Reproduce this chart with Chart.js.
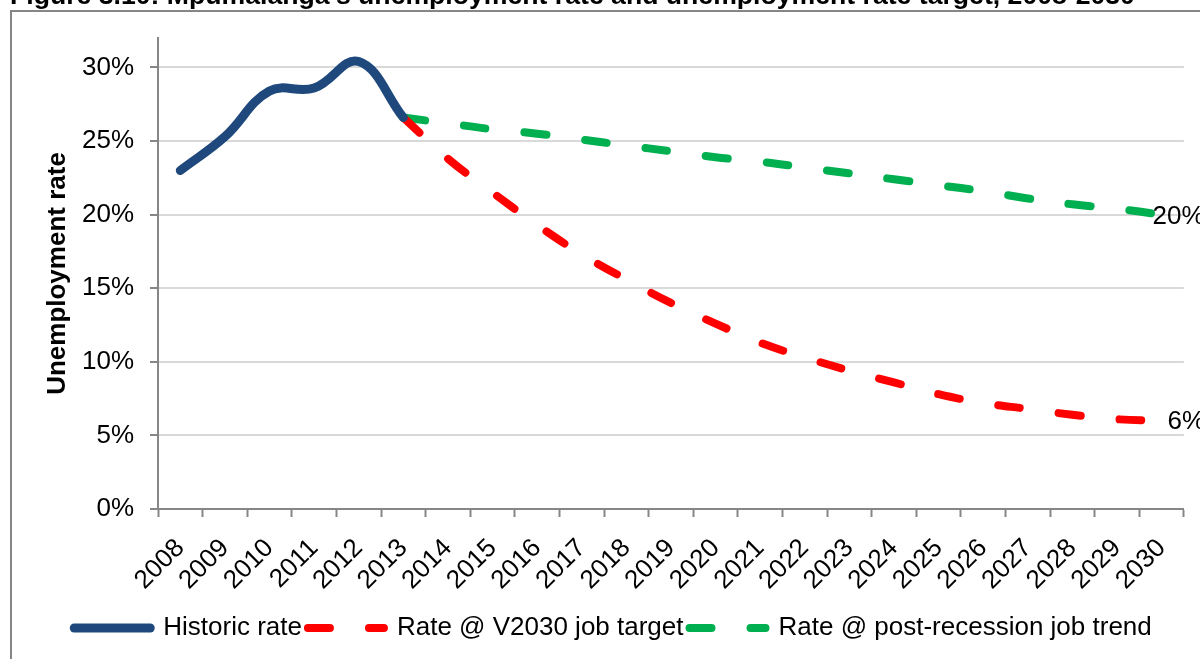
<!DOCTYPE html>
<html>
<head>
<meta charset="utf-8">
<script src="https://cdn.jsdelivr.net/npm/chart.js@4.4.1/dist/chart.umd.min.js"></script>
<style>
  html, body { margin: 0; padding: 0; background: #fff; }
  #wrap { width: 1200px; height: 659px; }
</style>
</head>
<body>
<div id="wrap"><canvas id="myChart"></canvas></div>
<script>
// Mpumalanga unemployment rate and targets

const figTitle = "Figure 3.10: Mpumalanga's unemployment rate and unemployment rate target, 2008-2030";

const years = [
  '2008', '2009', '2010', '2011', '2012', '2013', '2014', '2015',
  '2016', '2017', '2018', '2019', '2020', '2021', '2022', '2023',
  '2024', '2025', '2026', '2027', '2028', '2029', '2030'
];

const historic = [23.0, 25.3, 28.4, 28.6, 30.4, 26.6];

const v2030Target = [null, null, null, null, null,
  26.6, 23.8, 21.5, 19.3, 17.3, 15.6, 14.0, 12.6, 11.3, 10.3,
  9.4, 8.6, 7.8, 7.2, 6.8, 6.4, 6.1, 6.0];

const postRecession = [null, null, null, null, null,
  26.6, 26.2, 25.8, 25.5, 25.1, 24.7, 24.3, 23.9, 23.6, 23.2,
  22.8, 22.4, 22.0, 21.6, 21.1, 20.7, 20.4, 20.0];

const yTicks = [0, 5, 10, 15, 20, 25, 30];

const fontFamily = '"Liberation Sans", Arial, sans-serif';

// labels at the end of the two target lines
const endLabels = {
  id: 'endLabels',
  afterDatasetsDraw(chart, args, opts) {
    const ctx = chart.ctx;
    ctx.save();
    ctx.font = '26px ' + fontFamily;
    ctx.fillStyle = '#000';
    ctx.textBaseline = 'middle';
    ctx.textAlign = 'left';
    opts.items.forEach(item => {
      const meta = chart.getDatasetMeta(item.dataset);
      const pt = meta.data[meta.data.length - 1];
      const vals = chart.data.datasets[item.dataset].data;
      const v = vals[vals.length - 1];
      ctx.fillText(Math.round(v) + '%', pt.x + item.dx, pt.y + item.dy);
    });
    ctx.restore();
  }
};

// outer frame + figure caption cut off at the top
const frame = {
  id: 'frame',
  afterDraw(chart) {
    const ctx = chart.ctx;
    ctx.save();
    ctx.strokeStyle = '#868686';
    ctx.lineWidth = 2;
    ctx.strokeRect(11, 11, chart.width + 20, chart.height + 20);
    ctx.font = 'bold 20px ' + fontFamily;
    const w = ctx.measureText(figTitle).width;
    ctx.font = 'bold ' + (20 * 1125 / w).toFixed(2) + 'px ' + fontFamily;
    ctx.fillStyle = '#000';
    ctx.textBaseline = 'alphabetic';
    ctx.fillText(figTitle, 10, 4);
    ctx.restore();
  }
};

const data = {
  labels: years,
  datasets: [
    {
      label: 'Historic rate',
      data: historic,
      borderColor: '#1F497D',
      backgroundColor: '#1F497D',
      borderWidth: 9,
      tension: 0.4,
      pointRadius: 0,
      borderCapStyle: 'round',
    },
    {
      label: 'Rate @ V2030 job target',
      data: v2030Target,
      borderColor: '#FF0000',
      backgroundColor: '#FF0000',
      borderWidth: 8,
      borderDash: [22, 39],
      borderCapStyle: 'round',
      tension: 0.4,
      pointRadius: 0,
    },
    {
      label: 'Rate @ post-recession job trend',
      data: postRecession,
      borderColor: '#00B050',
      backgroundColor: '#00B050',
      borderWidth: 8,
      borderDash: [22, 39],
      borderCapStyle: 'round',
      tension: 0.4,
      pointRadius: 0,
    },
  ]
};

const config = {
  type: 'line',
  data: data,
  plugins: [endLabels, frame],
  options: {
    responsive: true,
    maintainAspectRatio: false,
    animation: false,
    layout: {
      padding: { left: 42, right: 16, top: 38, bottom: 8 }
    },
    scales: {
      x: {
        offset: true,
        grid: {
          offset: true,
          drawOnChartArea: false,
          tickLength: 8,
          tickColor: '#868686',
          tickWidth: 2,
        },
        border: { color: '#868686', width: 2 },
        ticks: {
          autoSkip: false,
          minRotation: 45,
          maxRotation: 45,
          padding: 16,
          color: '#000',
          font: { family: fontFamily, size: 26 },
        },
        afterFit(scale) { scale.height = 100; }
      },
      y: {
        min: 0,
        max: 32,
        ticks: {
          stepSize: 5,
          padding: 16,
          color: '#000',
          font: { family: fontFamily, size: 26 },
          callback: function(value) {
            return value + '%';
          }
        },
        afterBuildTicks(axis) {
          axis.ticks = axis.ticks.filter(t => yTicks.includes(t.value));
        },
        grid: {
          color: '#D9D9D9',
          lineWidth: 2,
          tickLength: 8,
          tickColor: '#868686',
          tickWidth: 2,
        },
        border: { color: '#868686', width: 2 },
        title: {
          display: true,
          text: 'Unemployment rate',
          color: '#000',
          padding: { top: 0, bottom: 10 },
          font: { family: fontFamily, size: 26, weight: 'bold' },
        },
        afterFit(scale) { scale.width = 116; }
      }
    },
    plugins: {
      legend: {
        position: 'bottom',
        labels: {
          usePointStyle: true,
          pointStyle: 'line',
          pointStyleWidth: 76,
          padding: 6,
          color: '#000',
          font: { family: fontFamily, size: 26 },
          // keep the dash pattern of each line in the legend sample
          generateLabels(chart) {
            const items = Chart.defaults.plugins.legend.labels.generateLabels(chart);
            items.forEach(item => {
              const ds = chart.data.datasets[item.datasetIndex];
              item.lineDash = ds.borderDash || [];
              item.lineCap = 'round';
              item.lineWidth = ds.borderWidth;
            });
            return items;
          }
        }
      },
      tooltip: { enabled: false },
      endLabels: {
        items: [
          { dataset: 2, dx: -9, dy: 2 },
          { dataset: 1, dx: 6, dy: 1 },
        ]
      }
    }
  }
};

const myChart = new Chart(
  document.getElementById('myChart'),
  config
);
</script>
</body>
</html>
